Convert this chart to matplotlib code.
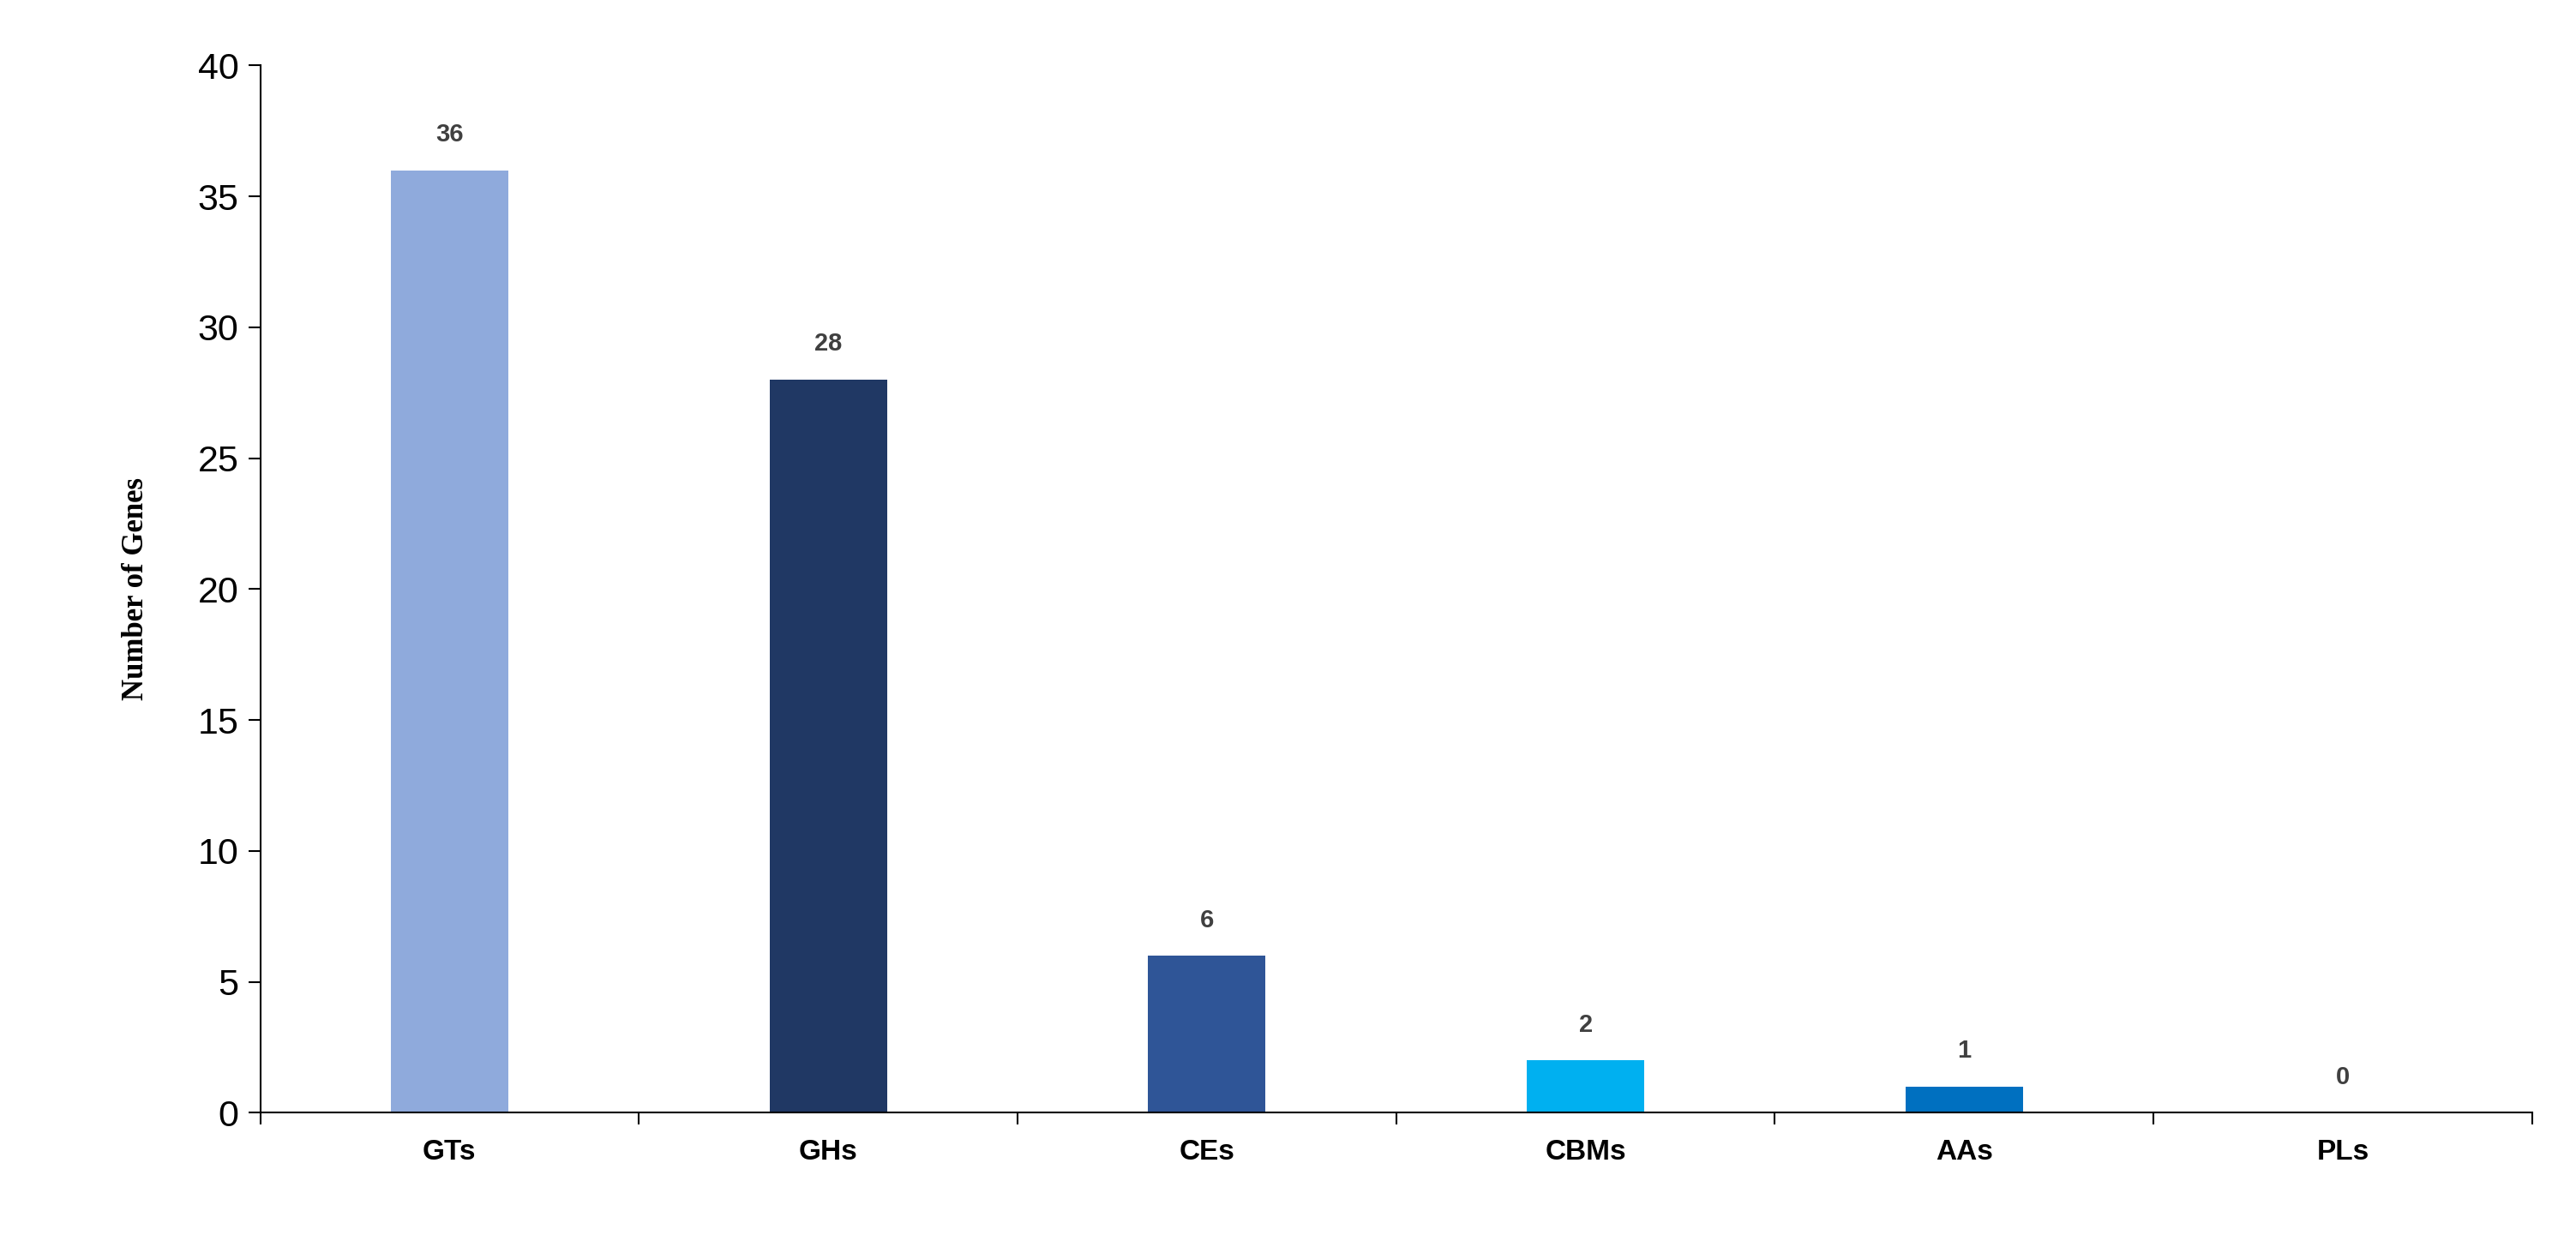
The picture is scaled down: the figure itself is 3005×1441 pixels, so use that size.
import matplotlib
matplotlib.use("Agg")
import matplotlib.pyplot as plt
import numpy as np

categories = ["GTs", "GHs", "CEs", "CBMs", "AAs", "PLs"]
values = [36, 28, 6, 2, 1, 0]
colors = ["#8FAADC", "#203864", "#2F5597", "#00B0F0", "#0070C0", "#7F7F7F"]
yticks = [0, 5, 10, 15, 20, 25, 30, 35, 40]

fig = plt.figure(figsize=(30.05, 14.41), dpi=100)
ax = fig.add_axes([0.101, 0.099, 0.882, 0.848])
x = np.arange(len(categories))
ax.bar(x, values, width=0.31, color=colors)
for xi, v in zip(x, values):
    ax.text(xi, v + 0.9, str(v), ha="center", va="bottom", fontsize=21,
            fontweight="bold", color="#404040", family="Liberation Sans")
ax.set_xlim(-0.5, len(categories) - 0.5)
ax.set_ylim(0, 40)
ax.set_yticks(yticks)
ax.set_yticklabels([str(t) for t in yticks], fontsize=31, family="Liberation Sans")
ax.set_xticks(x)
ax.set_xticklabels(categories, fontsize=24, fontweight="bold", family="Liberation Sans")
ax.tick_params(axis="x", which="major", length=0, pad=22)
ax.set_xticks(np.arange(-0.5, len(categories)), minor=True)
ax.tick_params(axis="x", which="minor", length=10, width=1.5, direction="out")
ax.tick_params(axis="y", length=10, width=1.5, direction="out", pad=8)
for s in ["top", "right"]:
    ax.spines[s].set_visible(False)
for s in ["left", "bottom"]:
    ax.spines[s].set_linewidth(1.5)
ax.set_ylabel("Number of Genes", fontsize=25, fontweight="bold",
              family="Liberation Serif", labelpad=40)
fig.savefig("out.png", dpi=100)
